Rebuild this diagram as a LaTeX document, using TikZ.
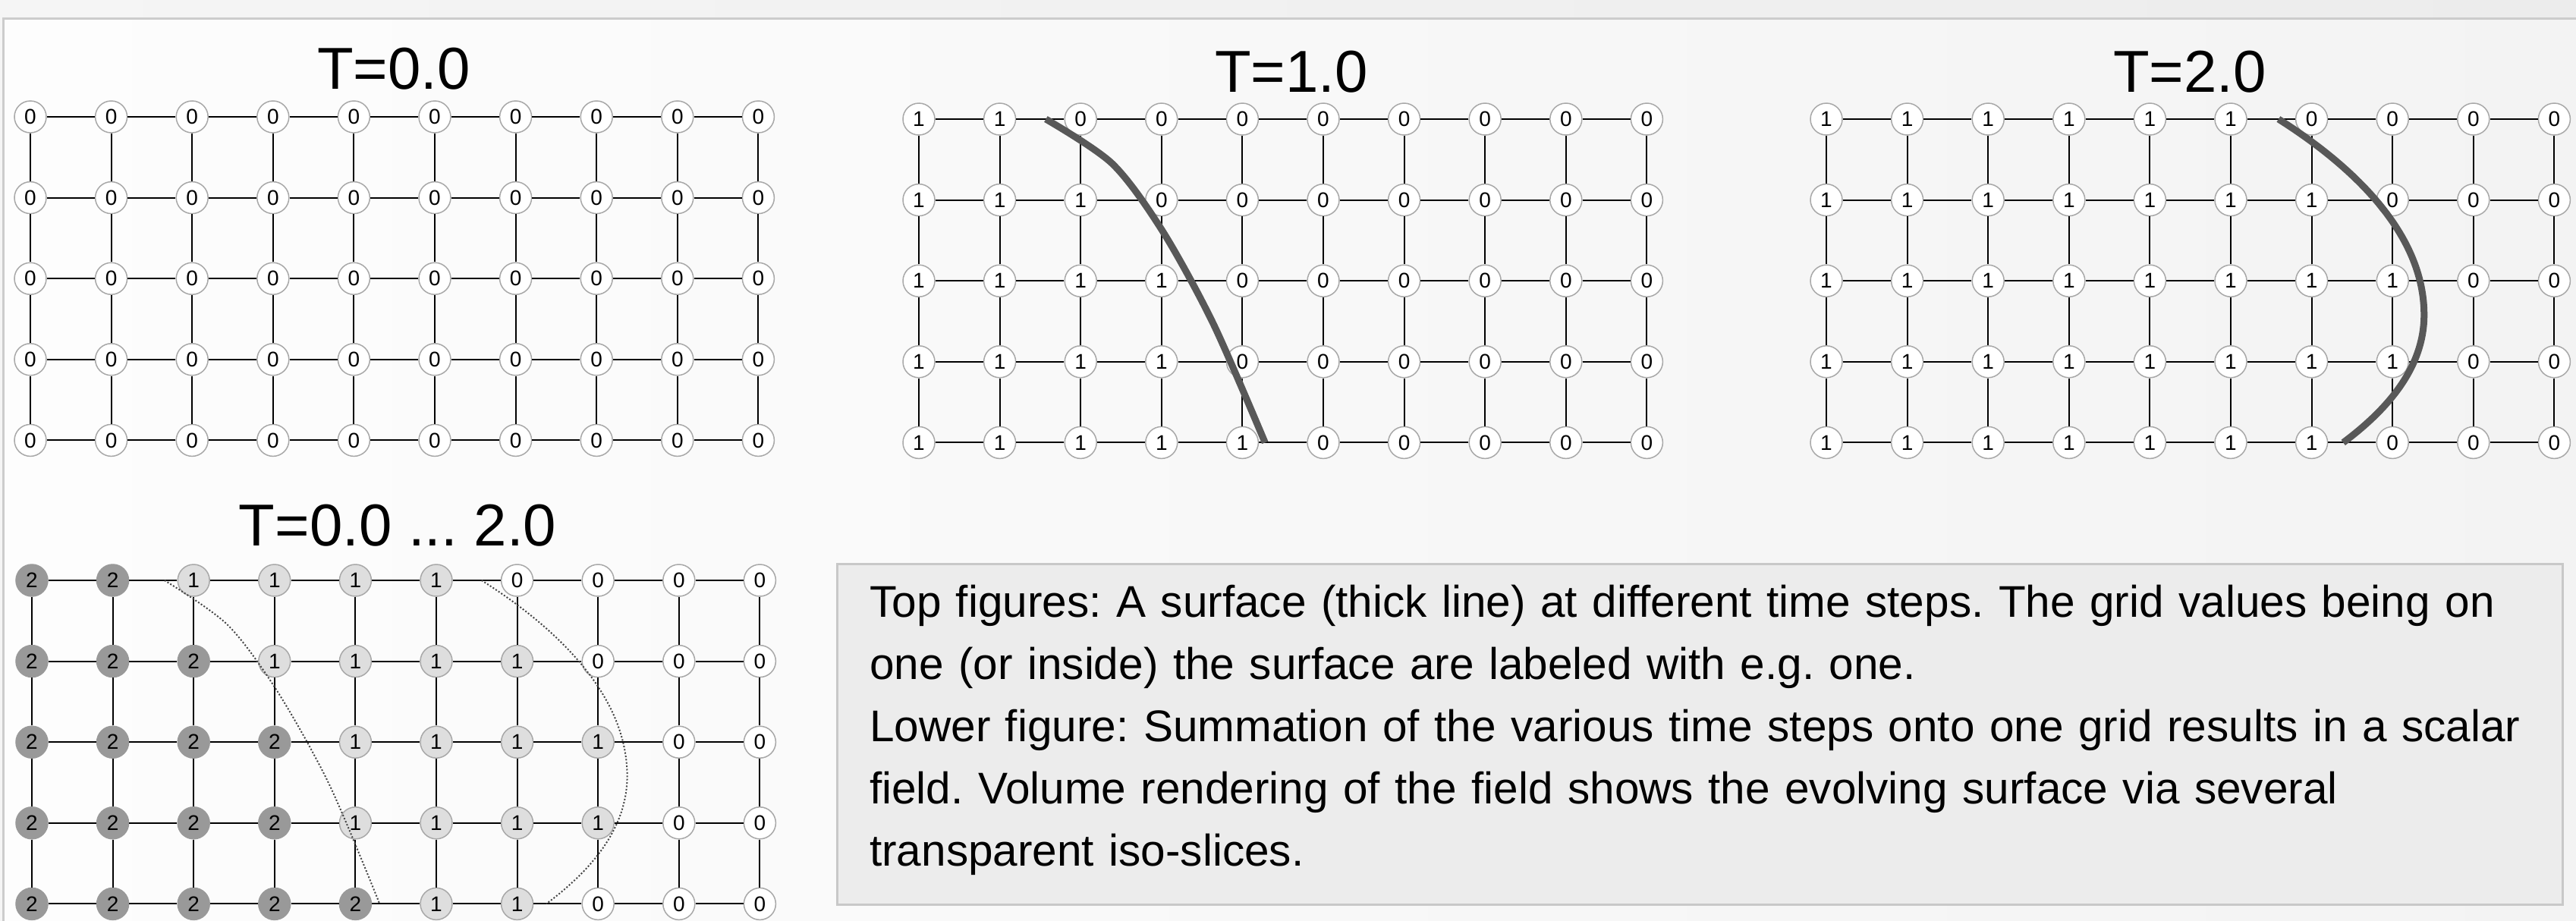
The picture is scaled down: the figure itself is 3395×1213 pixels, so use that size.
\documentclass[tikz,border=0pt]{standalone}
\usepackage{fontspec}
\setmainfont{Liberation Sans}
\usepackage{tikz}
\usetikzlibrary{positioning}
\definecolor{outside}{RGB}{245,245,245}
\definecolor{outsideR}{RGB}{236,236,236}
\definecolor{paper}{RGB}{253,253,253}
\definecolor{paperR}{RGB}{243,243,243}
\definecolor{frameline}{RGB}{204,204,204}
\definecolor{ring}{RGB}{168,168,168}
\definecolor{lvlone}{RGB}{222,222,222}
\definecolor{lvltwo}{RGB}{153,153,153}
\definecolor{surf}{RGB}{88,88,88}
\definecolor{dotgray}{RGB}{70,70,70}
\definecolor{notefill}{RGB}{236,236,236}
\definecolor{noteline}{RGB}{200,200,200}
\def\gs{106.6}   % grid spacing, px
\frenchspacing

% horizontal and vertical links of a 10x5 grid, nodes <prefix>-row-col
\newcommand{\gridlinks}[1]{%
  \foreach \r in {0,...,4}
    \foreach \c [count=\cc from 1] in {0,...,8}
      \draw[link] (#1-\r-\c) -- (#1-\r-\cc);
  \foreach \r [count=\rr from 1] in {0,...,3}
    \foreach \c in {0,...,9}
      \draw[link] (#1-\r-\c) -- (#1-\rr-\c);
}

\begin{document}
\begin{tikzpicture}[x=1pt, y=1pt,
  cell0/.style={circle, draw=ring, line width=1.5pt, fill=white,
    minimum size=42pt, inner sep=0pt, font=\fontsize{28}{28}\selectfont},
  cell1/.style={cell0, fill=lvlone},
  cell2/.style={cell0, fill=lvltwo, draw=lvltwo},
  link/.style={black, line width=2pt},
  surface/.style={surf, line width=9pt},
  isoline/.style={dotgray, line width=2pt, dash pattern=on 2pt off 2.4pt},
  gridtitle/.style={anchor=base, font=\fontsize{78}{78}\selectfont}]

  %========= page and frame =========
  \useasboundingbox (0,0) rectangle (3395,-1213);
  \clip (0,0) rectangle (3395,-1213);
  \shade[left color=outside, right color=outsideR] (0,0) rectangle (3395,-1213);
  \shade[left color=paper, right color=paperR] (3,-23) rectangle (3420,-1240);
  \draw[frameline, line width=3pt] (4.5,-1240) |- (3420,-24.5);

  %========= titles =========
  \node[gridtitle] (t0) at (519,-117) {T=0.0};
  \node[gridtitle] (t1) at (1702,-121) {T=1.0};
  \node[gridtitle] (t2) at (2886,-121) {T=2.0};
  \node[gridtitle] (tsum) at (524,-719) {T=0.0 ... 2.0};

  %========= grid T=0.0 =========
  \begin{scope}[shift={(40,-154)}, x=\gs pt, y=-\gs pt]
    \foreach \r in {0,...,4}
      \foreach \c in {0,...,9}
        \node[cell0] (a-\r-\c) at (\c,\r) {0};
    \gridlinks{a}
  \end{scope}

  %========= grid T=1.0 =========
  \begin{scope}[shift={(1211,-157)}, x=\gs pt, y=-\gs pt]
    \foreach \r/\n in {0/2,1/3,2/4,3/4,4/5}
      \foreach \c in {0,...,9}{
        \pgfmathtruncatemacro{\val}{\c<\n}
        \node[cell0] (b-\r-\c) at (\c,\r) {\val};
      }
    \gridlinks{b}
    \draw[surface] plot[smooth] coordinates
      {(1.57,0) (2.39,0.55) (3.01,1.38) (3.64,2.53) (4.28,4.0)};
  \end{scope}

  %========= grid T=2.0 =========
  \begin{scope}[shift={(2407,-157)}, x=\gs pt, y=-\gs pt]
    \foreach \r/\n in {0/6,1/7,2/8,3/8,4/7}
      \foreach \c in {0,...,9}{
        \pgfmathtruncatemacro{\val}{\c<\n}
        \node[cell0] (c-\r-\c) at (\c,\r) {\val};
      }
    \gridlinks{c}
    \draw[surface] (5.59,0) .. controls (6.3,0.45) and (7.39,1.3) .. (7.39,2.42)
                            .. controls (7.39,3.12) and (6.87,3.64) .. (6.39,4.0);
  \end{scope}

  %========= summed grid T=0.0 ... 2.0 =========
  % value = number of time steps with the node on/inside the surface
  \begin{scope}[shift={(42,-765)}, x=\gs pt, y=-\gs pt]
    \foreach \r/\n/\m in {0/2/6,1/3/7,2/4/8,3/4/8,4/5/7}
      \foreach \c in {0,...,9}{
        \pgfmathtruncatemacro{\val}{(\c<\n)+(\c<\m)}
        \node[cell\val] (d-\r-\c) at (\c,\r) {\val};
      }
    \gridlinks{d}
    \draw[isoline] plot[smooth] coordinates
      {(1.64,0) (2.42,0.55) (3.04,1.38) (3.68,2.53) (4.3,4.0)};
    \draw[isoline] (5.56,0) .. controls (6.27,0.45) and (7.36,1.3) .. (7.36,2.42)
                            .. controls (7.36,3.12) and (6.84,3.64) .. (6.36,4.0);
  \end{scope}

  %========= caption box =========
  \draw[noteline, fill=notefill, line width=3pt] (1103.5,-743.5) rectangle (3377.5,-1192.5);
  \node[anchor=base west, text width=2220pt, align=left, inner sep=0pt,
        font=\fontsize{58.5}{82}\selectfont] (note) at (1146,-813)
    {Top figures: A surface (thick line) at different time steps. The grid values being on\\
     one (or inside) the surface are labeled with e.g. one.\\
     Lower figure: Summation of the various time steps onto one grid results in a scalar\\
     field. Volume rendering of the field shows the evolving surface via several\\
     transparent iso-slices.};
\end{tikzpicture}
\end{document}
